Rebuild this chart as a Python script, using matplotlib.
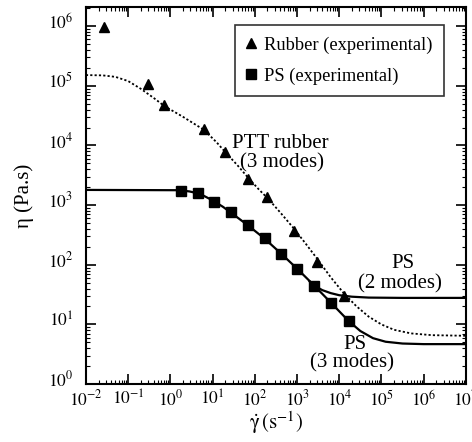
import matplotlib
matplotlib.use("Agg")
import matplotlib.pyplot as plt
import matplotlib.transforms as mtransforms
import numpy as np
from matplotlib.ticker import LogLocator, FuncFormatter, NullFormatter

plt.rcParams['font.family'] = ['Liberation Serif', 'DejaVu Serif']
plt.rcParams['mathtext.fontset'] = 'stix'

# Experimental data
rubber_x = [0.027, 0.29, 0.72, 6.3, 19.5, 68, 190, 850, 2950, 13200]
rubber_y = [9.8e5, 1.07e5, 4.8e4, 1.86e4, 7.9e3, 2.75e3, 1.38e3, 370, 112, 30]
ps_x = [1.78, 4.5, 11, 27.5, 69, 170, 417, 1020, 2570, 6460, 16600]
ps_y = [1740, 1585, 1120, 760, 468, 282, 151, 85, 44, 23, 11.5]

# Model curves (log10 of shear rate, log10 of viscosity)
ptt_logx = [-2, -1.6, -1.3, -1.0, -0.7, -0.4, -0.14, 0.3, 0.8, 1.1, 1.3, 1.6, 1.83,
            2.1, 2.3, 2.6, 2.9, 3.2, 3.5, 3.8, 4.1, 4.4, 4.7, 5.0, 5.3, 5.7, 6.2, 7.0]
ptt_logy = [5.18, 5.175, 5.15, 5.08, 4.95, 4.80, 4.66, 4.48, 4.26, 4.05, 3.89, 3.66, 3.47,
            3.26, 3.12, 2.88, 2.63, 2.36, 2.08, 1.79, 1.53, 1.31, 1.13, 1.0, 0.91, 0.85, 0.82, 0.81]
ps3_logx = [-2, 0.2, 0.45, 0.7, 1.0, 1.25, 1.5, 1.84, 2.23, 2.62, 3.01, 3.41, 3.81,
            4.22, 4.5, 4.8, 5.1, 5.5, 6.0, 7.0]
ps3_logy = [3.255, 3.25, 3.23, 3.19, 3.08, 2.97, 2.84, 2.66, 2.44, 2.19, 1.93, 1.65, 1.36,
            1.06, 0.89, 0.77, 0.71, 0.68, 0.67, 0.67]
ps2_logx = [3.3, 3.41, 3.6, 3.8, 4.0, 4.3, 4.7, 5.5, 7.0]
ps2_logy = [1.72, 1.65, 1.575, 1.525, 1.49, 1.465, 1.45, 1.445, 1.445]

fig = plt.figure(figsize=(4.72, 4.42), dpi=100)
ax = fig.add_axes([0.182, 0.131, 0.805, 0.853])

ax.plot(10**np.array(ptt_logx), 10**np.array(ptt_logy), color='black', lw=1.3,
        linestyle=(0, (1.2, 1.2)))
ax.plot(10**np.array(ps3_logx), 10**np.array(ps3_logy), color='black', lw=1.6)
ax.plot(10**np.array(ps2_logx), 10**np.array(ps2_logy), color='black', lw=1.6)

ax.plot(rubber_x, rubber_y, linestyle='none', marker='^', color='black', markersize=7,
        label='Rubber (experimental)')
ax.plot(ps_x, ps_y, linestyle='none', marker='s', color='black', markersize=6.5,
        label='PS (experimental)')

ax.set_xscale('log')
ax.set_yscale('log')
ax.set_xlim(1e-2, 1e7)
ax.set_ylim(1e0, 10**6.32)

ax.xaxis.set_major_locator(LogLocator(base=10, numticks=20))
ax.yaxis.set_major_locator(LogLocator(base=10, numticks=20))
ax.xaxis.set_minor_locator(LogLocator(base=10, subs=np.arange(2, 10), numticks=20))
ax.yaxis.set_minor_locator(LogLocator(base=10, subs=np.arange(2, 10), numticks=20))
fmt = FuncFormatter(lambda v, p: r'$10^{%d}$' % int(round(np.log10(v))))
ax.xaxis.set_major_formatter(fmt)
ax.yaxis.set_major_formatter(fmt)
ax.xaxis.set_minor_formatter(NullFormatter())
ax.yaxis.set_minor_formatter(NullFormatter())

ax.tick_params(which='both', direction='in', top=True, right=True, labelsize=12.5)
ax.tick_params(which='major', length=7, width=1.2)
ax.tick_params(which='minor', length=3, width=0.8)
ax.tick_params(axis='y', which='major', pad=9)
ax.tick_params(axis='x', which='major', pad=4)
for s in ax.spines.values():
    s.set_linewidth(1.5)

# nudge y tick labels slightly upward, as in the reference
offset = mtransforms.ScaledTranslation(0, 4 / 72, fig.dpi_scale_trans)
for lbl in ax.get_yticklabels():
    lbl.set_transform(lbl.get_transform() + offset)

ax.set_xlabel(r'$\dot{\mathrm{\gamma}}\,(\mathrm{s}^{-1})$', fontsize=15, labelpad=0)
ax.set_ylabel('η (Pa.s)', fontsize=15, labelpad=10)

leg = ax.legend(loc='upper right', bbox_to_anchor=(0.942, 0.952), borderaxespad=0,
                fontsize=13.3, frameon=True, fancybox=False, edgecolor='black',
                handlelength=0.6, handletextpad=0.4, borderpad=0.6, labelspacing=0.75)
leg.get_frame().set_linewidth(1.2)

ax.text(10**2.60, 10**4.03, 'PTT rubber', fontsize=15, ha='center', va='center')
ax.text(10**2.64, 10**3.71, '(3 modes)', fontsize=15, ha='center', va='center')
ax.text(10**5.51, 10**2.02, 'PS', fontsize=15, ha='center', va='center')
ax.text(10**5.44, 10**1.68, '(2 modes)', fontsize=15, ha='center', va='center')
ax.text(10**4.37, 10**0.67, 'PS', fontsize=15, ha='center', va='center')
ax.text(10**4.30, 10**0.35, '(3 modes)', fontsize=15, ha='center', va='center')

fig.savefig('out.png', dpi=100)
